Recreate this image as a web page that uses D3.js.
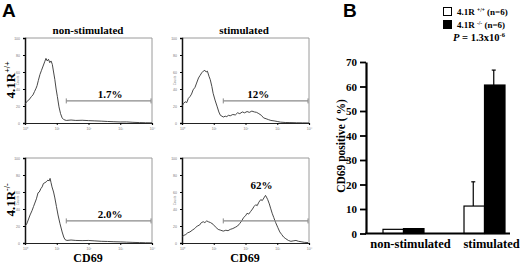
<!DOCTYPE html>
<html>
<head>
<meta charset="utf-8">
<script src="https://d3js.org/d3.v7.min.js"></script>
<style>
  body { margin: 0; background: #fff; }
  svg { display: block; }
</style>
</head>
<body>
<div id="chart"></div>
<script>

// ---- panel A: flow histograms, [log decade, counts] ----
var histNonWT = [[0,22],[0.05,25],[0.12,27],[0.2,31],[0.25,33],[0.3,37],[0.35,41],[0.38,44],[0.42,50],[0.47,57],[0.52,62],[0.57,67],[0.62,72],[0.66,76],[0.7,73],[0.74,75],[0.78,71],[0.82,73],[0.86,69],[0.9,60],[0.94,51],[0.98,40],[1.02,31],[1.07,19],[1.12,11],[1.17,6],[1.22,4],[1.3,3],[1.45,3.5],[1.6,3],[1.8,3.2],[2.0,2.8],[2.2,2.5],[2.4,2.2],[2.6,1.8],[2.8,1.5],[3.0,1.2],[3.2,1.3],[3.4,0.8],[3.6,0.5],[3.8,0.3],[4,0.2]];

var histStimWT = [[0,20],[0.05,23],[0.1,25],[0.15,24],[0.2,29],[0.25,31],[0.3,34],[0.35,39],[0.41,42],[0.46,47],[0.52,53],[0.57,56],[0.62,59],[0.67,61],[0.72,62],[0.76,60],[0.8,61],[0.85,55],[0.89,51],[0.94,43],[0.98,35],[1.04,27],[1.11,19],[1.16,13],[1.21,9],[1.26,8],[1.3,7],[1.36,8],[1.41,7.5],[1.46,9],[1.52,8.5],[1.6,10],[1.68,9.5],[1.75,12],[1.82,11],[1.9,13],[1.97,12],[2.05,13.5],[2.12,12.5],[2.2,14],[2.28,13],[2.35,12.5],[2.42,11],[2.5,9],[2.57,6],[2.65,5],[2.72,4],[2.8,3],[2.9,2.5],[3.0,1.8],[3.1,1],[3.25,0.6],[3.4,0.5],[3.6,0.3],[3.8,0.2],[4,0.1]];

var histNonKO = [[0,20],[0.05,22],[0.1,27],[0.16,33],[0.22,38],[0.27,43],[0.31,47],[0.36,52],[0.41,59],[0.45,60],[0.5,64],[0.54,66],[0.58,70],[0.63,71],[0.67,72],[0.72,74],[0.76,73],[0.79,76],[0.82,71],[0.85,66],[0.9,60],[0.94,53],[0.99,43],[1.04,33],[1.1,23],[1.17,13],[1.22,7],[1.26,4],[1.32,3],[1.45,3.5],[1.6,3],[1.8,2.8],[2.0,3],[2.2,2.5],[2.4,2],[2.6,1.8],[2.8,1.5],[3.0,1.3],[3.2,1],[3.4,0.7],[3.6,0.5],[3.8,0.3],[4,0.2]];

var histStimKO = [[0,7],[0.06,9],[0.12,10],[0.18,12],[0.25,13],[0.32,15],[0.4,17],[0.48,20],[0.55,21],[0.61,24],[0.67,25],[0.72,24],[0.78,26],[0.83,25],[0.9,24],[0.98,22],[1.05,19],[1.14,16],[1.22,15],[1.3,14],[1.38,15],[1.45,14.5],[1.52,16],[1.6,17],[1.68,18.5],[1.75,20],[1.82,23],[1.88,26],[1.94,30],[2.0,32],[2.05,35],[2.1,34],[2.16,37],[2.22,40],[2.27,43],[2.32,45],[2.37,44],[2.42,48],[2.48,51],[2.53,50],[2.58,53],[2.63,56],[2.66,54],[2.7,51],[2.75,46],[2.79,41],[2.84,35],[2.89,30],[2.95,24],[3.02,18],[3.08,13],[3.14,10],[3.2,7],[3.27,5],[3.35,3],[3.43,2],[3.5,2.5],[3.59,3],[3.67,2],[3.75,1.5],[3.85,0.8],[3.97,0.5]];

var gateLabels = ["1.7%", "12%", "2.0%", "62%"];
var gateRange = [1.3, 4];      // decades
var gateLevel = 26;            // counts
var histXTicks = [0, 1, 2, 3, 4];
var histXTickLabels = ["10\u2070", "10\u00b9", "10\u00b2", "10\u00b3", "10\u2074"];
var histYTicks = [0, 20, 40, 60, 80, 100];

// ---- panel B: bar chart ----
var groups = ["non-stimulated", "stimulated"];
var genotypes = ["wt", "ko"];
var barMeans = { wt: [1.7, 11.2], ko: [2.0, 60.6] };
var barErrors = { wt: [0, 9.9], ko: [0, 6.1] };
var yTicksB = [0, 10, 20, 30, 40, 50, 60, 70];

var SERIF = "'Liberation Serif', 'Times New Roman', 'DejaVu Serif', serif";
var SANS = "'Liberation Sans', Arial, sans-serif";

var W = 520, H = 264;
var svg = d3.select("#chart").append("svg")
  .attr("width", W).attr("height", H);

function stext(x, y, size) {
  return svg.append("text").attr("x", x).attr("y", y)
    .attr("font-family", SERIF).attr("font-weight", "bold").attr("font-size", size);
}

// panel letters
svg.append("text").attr("x", 2).attr("y", 17).attr("font-family", SANS)
  .attr("font-weight", "bold").attr("font-size", 19).text("A");
svg.append("text").attr("x", 343).attr("y", 17).attr("font-family", SANS)
  .attr("font-weight", "bold").attr("font-size", 19).text("B");

// histogram panels
var panels = [
  { data: histNonWT, x: 25, y: 38, label: gateLabels[0], lx: 2.68, ly: 29 },
  { data: histStimWT, x: 182, y: 38, label: gateLabels[1], lx: 2.4, ly: 29 },
  { data: histNonKO, x: 25, y: 158, label: gateLabels[2], lx: 2.68, ly: 29 },
  { data: histStimKO, x: 182, y: 158, label: gateLabels[3], lx: 2.5, ly: 64 }
];
var pw = 127, ph = 85;

panels.forEach(function(p) {
  var g = svg.append("g").attr("transform", "translate(" + p.x + "," + p.y + ")");
  var x = d3.scaleLinear().domain([0, 4]).range([0, pw]);
  var y = d3.scaleLinear().domain([0, 100]).range([ph, 0]);

  // frame: top/right grey
  g.append("path").attr("d", "M0,0H" + pw + "V" + ph)
    .attr("fill", "none").attr("stroke", "#9a9a9a").attr("stroke-width", 1);

  var xa = g.append("g").attr("transform", "translate(0," + ph + ")")
    .call(d3.axisBottom(x).tickValues(histXTicks).tickSize(2)
      .tickFormat(function(d, i) { return histXTickLabels[i]; }));
  xa.select(".domain").attr("stroke", "#222").attr("stroke-width", 1.2);
  xa.selectAll("text").attr("font-size", 3.5).attr("fill", "#777").attr("dy", "0.5em");

  var ya = g.append("g")
    .call(d3.axisLeft(y).tickValues(histYTicks).tickSize(2));
  ya.select(".domain").attr("stroke", "#111").attr("stroke-width", 1.5);
  ya.selectAll("text").attr("font-size", 3.5).attr("fill", "#777");

  g.append("text").attr("transform", "translate(-6," + (ph / 2) + ") rotate(-90)")
    .attr("text-anchor", "middle").attr("font-size", 3).attr("fill", "#888")
    .attr("font-family", "sans-serif").text("Counts");

  g.append("path").datum(p.data)
    .attr("d", d3.line().x(function(d) { return x(d[0]); }).y(function(d) { return y(d[1]); }))
    .attr("fill", "none").attr("stroke", "#333").attr("stroke-width", 0.9);

  // gate marker
  var gy = y(gateLevel);
  g.append("line").attr("x1", x(gateRange[0])).attr("x2", x(gateRange[1]) - 1)
    .attr("y1", gy).attr("y2", gy).attr("stroke", "#8a8a8a").attr("stroke-width", 1.1);
  [gateRange[0], gateRange[1]].forEach(function(v, i) {
    var xx = x(v) - (i ? 1 : 0);
    g.append("line").attr("x1", xx).attr("x2", xx).attr("y1", gy - 2.5).attr("y2", gy + 2.5)
      .attr("stroke", "#8a8a8a").attr("stroke-width", 1);
  });
  g.append("text").attr("x", x(p.lx)).attr("y", y(p.ly))
    .attr("font-family", SERIF).attr("font-weight", "bold")
    .attr("text-anchor", "middle").attr("font-size", 11).text(p.label);
});

// panel titles and row labels
stext(88, 34, 11).attr("text-anchor", "middle").text("non-stimulated");
stext(244, 34, 11).attr("text-anchor", "middle").text("stimulated");
stext(88, 262, 12).attr("text-anchor", "middle").text("CD69");
stext(245, 262, 12).attr("text-anchor", "middle").text("CD69");

var rowLab1 = stext(0, 0, 13).attr("text-anchor", "middle")
  .attr("transform", "translate(15,80) rotate(-90)");
rowLab1.append("tspan").text("4.1R");
rowLab1.append("tspan").attr("font-size", 8).attr("dy", -5).text("+/+");
var rowLab2 = stext(0, 0, 13).attr("text-anchor", "middle")
  .attr("transform", "translate(15,200) rotate(-90)");
rowLab2.append("tspan").text("4.1R");
rowLab2.append("tspan").attr("font-size", 8).attr("dy", -5).text("-/-");

// ---- panel B ----
var yB = d3.scaleLinear().domain([0, 70]).range([233.5, 62]);
var x0 = d3.scaleBand().domain(groups).range([383, 505]).paddingInner(0.494).paddingOuter(0);
var x1 = d3.scaleBand().domain(genotypes).range([0, x0.bandwidth()]);
var fills = { wt: "#fff", ko: "#000" };

var yaB = svg.append("g").attr("transform", "translate(366,0)")
  .call(d3.axisLeft(yB).tickValues(yTicksB).tickSize(6).tickSizeOuter(0));
yaB.select(".domain").attr("stroke-width", 2.2);
yaB.selectAll(".tick line").attr("stroke-width", 1.8);
yaB.selectAll("text").attr("font-family", SERIF).attr("font-weight", "bold")
  .attr("font-size", 11).attr("fill", "#000").attr("x", -9);

var bars = svg.append("g");
groups.forEach(function(gname, gi) {
  genotypes.forEach(function(k) {
    var bx = x0(gname) + x1(k), bw = x1.bandwidth();
    var err = barErrors[k][gi];
    if (err > 0) {
      var cx = bx + bw / 2 - 1;
      bars.append("line").attr("x1", cx).attr("x2", cx)
        .attr("y1", yB(barMeans[k][gi])).attr("y2", yB(barMeans[k][gi] + err))
        .attr("stroke", "#000").attr("stroke-width", 1.2);
      bars.append("line").attr("x1", cx - 2).attr("x2", cx + 2)
        .attr("y1", yB(barMeans[k][gi] + err)).attr("y2", yB(barMeans[k][gi] + err))
        .attr("stroke", "#000").attr("stroke-width", 1.2);
    }
    bars.append("rect").attr("x", bx).attr("width", bw)
      .attr("y", yB(barMeans[k][gi])).attr("height", yB(0) - yB(barMeans[k][gi]))
      .attr("fill", fills[k]).attr("stroke", "#000").attr("stroke-width", 1.2);
  });
});

svg.append("line").attr("x1", 365).attr("x2", 510).attr("y1", yB(0)).attr("y2", yB(0))
  .attr("stroke", "#000").attr("stroke-width", 2.2);

groups.forEach(function(gname) {
  stext(x0(gname) + x0.bandwidth() / 2 + 7, 248, 12.5).attr("text-anchor", "middle").text(gname);
});

stext(0, 0, 11.5).attr("text-anchor", "middle")
  .attr("transform", "translate(345,146) rotate(-90)").text("CD69 positive ( %)");

// legend
var legendRows = [{ k: "wt", sup: "+/+", y: 7 }, { k: "ko", sup: "-/-", y: 20 }];
legendRows.forEach(function(r) {
  svg.append("rect").attr("x", 443.5).attr("y", r.y + 0.5).attr("width", 8).attr("height", 8)
    .attr("fill", fills[r.k]).attr("stroke", "#000").attr("stroke-width", 1);
  var t = stext(457, r.y + 8, 9);
  t.append("tspan").text("4.1R ");
  t.append("tspan").attr("font-size", 5.5).attr("dy", -3.5).text(r.sup);
  t.append("tspan").attr("dy", 3.5).text(" (n=6)");
});
var pt = stext(453, 41, 10.5);
pt.append("tspan").attr("font-style", "italic").text("P");
pt.append("tspan").text(" = 1.3x10");
pt.append("tspan").attr("font-size", 6.5).attr("dy", -4.5).text("-6");

</script>
</body>
</html>
